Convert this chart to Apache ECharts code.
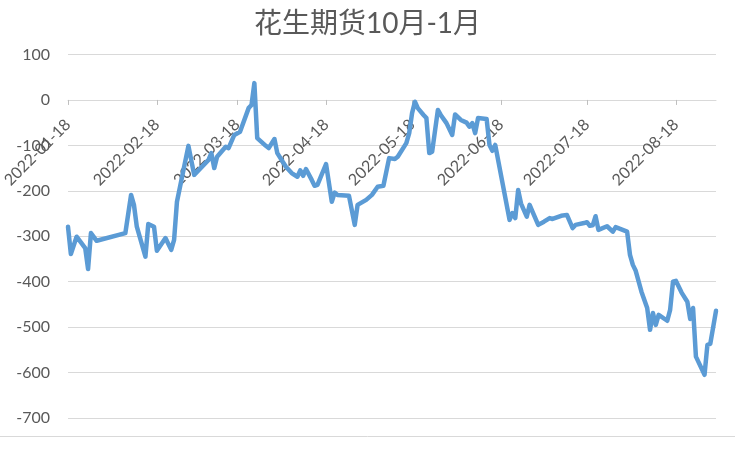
<!DOCTYPE html>
<html>
<head>
<meta charset="utf-8">
<script src="https://cdn.jsdelivr.net/npm/echarts@6/dist/echarts.min.js"></script>
<style>
html,body{margin:0;padding:0;background:#fff;}
#chart{width:735px;height:459px;}
</style>
</head>
<body>
<div id="chart"></div>
<script>
const titleText = '花生期货10月-1月';
const startDate = '2022-01-18';
const endDate = '2022-09-01';
const tickLabels = ['2022-01-18','2022-02-18','2022-03-18','2022-04-18','2022-05-18','2022-06-18','2022-07-18','2022-08-18'];
const yTicks = [-700, -600, -500, -400, -300, -200, -100, 0, 100];

const dates = [
'2022-01-18','2022-01-19','2022-01-21','2022-01-24','2022-01-25','2022-01-26','2022-01-28',
'2022-02-07','2022-02-09','2022-02-10','2022-02-11','2022-02-14','2022-02-15','2022-02-17','2022-02-18',
'2022-02-21','2022-02-23','2022-02-24','2022-02-25',
'2022-03-01','2022-03-03','2022-03-08','2022-03-09','2022-03-10','2022-03-11','2022-03-14','2022-03-15',
'2022-03-17','2022-03-19','2022-03-22','2022-03-23','2022-03-24','2022-03-25','2022-03-28','2022-03-29','2022-03-31',
'2022-04-01','2022-04-04','2022-04-06','2022-04-08','2022-04-09','2022-04-10','2022-04-11','2022-04-13','2022-04-14','2022-04-15',
'2022-04-18','2022-04-20','2022-04-21','2022-04-22','2022-04-26','2022-04-28','2022-04-29',
'2022-05-02','2022-05-04','2022-05-06','2022-05-08','2022-05-10','2022-05-12','2022-05-13','2022-05-16','2022-05-17',
'2022-05-18','2022-05-19','2022-05-20','2022-05-22','2022-05-23','2022-05-24','2022-05-25','2022-05-27','2022-05-28','2022-05-30',
'2022-06-01','2022-06-02','2022-06-04','2022-06-06','2022-06-07','2022-06-08','2022-06-09','2022-06-10','2022-06-13','2022-06-14',
'2022-06-15','2022-06-16','2022-06-21','2022-06-22','2022-06-23','2022-06-24','2022-06-25','2022-06-27','2022-06-28','2022-06-29',
'2022-07-01','2022-07-03','2022-07-05','2022-07-06','2022-07-09','2022-07-11','2022-07-13','2022-07-14','2022-07-17','2022-07-18',
'2022-07-19','2022-07-20','2022-07-21','2022-07-22','2022-07-25','2022-07-27','2022-07-28',
'2022-08-01','2022-08-02','2022-08-03','2022-08-04','2022-08-06','2022-08-08','2022-08-09','2022-08-10','2022-08-11','2022-08-12',
'2022-08-15','2022-08-16','2022-08-17','2022-08-18','2022-08-20','2022-08-22','2022-08-23','2022-08-24','2022-08-25','2022-08-28',
'2022-08-29','2022-08-30','2022-09-01'
];
const values = [
-279,-339,-301,-326,-372,-293,-310,
-293,-209,-231,-279,-345,-273,-279,-332,
-304,-330,-308,-224,
-101,-165,-132,-117,-150,-125,-103,-106,
-77,-70,-18,-11,37,-84,-101,-106,-86,
-117,-147,-161,-169,-155,-167,-152,-176,-189,-187,
-141,-224,-204,-209,-211,-275,-231,
-220,-209,-191,-189,-128,-130,-125,-95,-73,
-29,-4,-18,-33,-40,-117,-114,-22,-33,-51,
-77,-32,-44,-50,-59,-51,-73,-40,-42,-99,
-112,-99,-264,-249,-260,-198,-228,-257,-231,-246,
-275,-268,-260,-262,-255,-253,-282,-275,-271,-269,
-277,-276,-256,-286,-278,-290,-280,
-290,-341,-363,-376,-422,-458,-506,-469,-495,-473,
-486,-462,-400,-398,-424,-444,-482,-458,-565,-605,
-539,-537,-464
];

// Build full calendar-day category axis
function buildDays(a, b) {
  const out = [];
  const d = new Date(a + 'T00:00:00Z');
  const e = new Date(b + 'T00:00:00Z');
  while (d <= e) {
    out.push(d.toISOString().slice(0, 10));
    d.setUTCDate(d.getUTCDate() + 1);
  }
  return out;
}
const allDays = buildDays(startDate, endDate);
const valueMap = {};
dates.forEach((d, i) => { valueMap[d] = values[i]; });
const seriesData = allDays.map(d => (d in valueMap ? valueMap[d] : null));

const isTick = (idx, val) => tickLabels.indexOf(val) >= 0;
const fontFam = "Lato, 'Noto Sans CJK SC', sans-serif";

const gridTop = 54.5, gridBottom = 41, chartH = 459;
const yMin = yTicks[0], yMax = yTicks[yTicks.length - 1];
// place the category axis at value 0 (axis crosses at zero)
const plotH = chartH - gridTop - gridBottom;
const zeroOffset = -plotH * (0 - yMin) / (yMax - yMin);

const chart = echarts.init(document.getElementById('chart'), null, {renderer: 'canvas'});
chart.setOption({
  backgroundColor: '#ffffff',
  animation: false,
  title: {
    text: titleText,
    left: 'center',
    top: 5,
    textStyle: {fontFamily: fontFam, fontSize: 28, fontWeight: 'normal', color: '#595959'}
  },
  grid: {left: 68, right: 19, top: gridTop, bottom: gridBottom, containLabel: false, outerBoundsMode: 'none'},
  xAxis: {
    type: 'category',
    data: allDays,
    boundaryGap: false,
    position: 'bottom',
    offset: zeroOffset,
    axisLine: {onZero: false, lineStyle: {color: '#d9d9d9', width: 1}},
    axisTick: {show: true, interval: isTick, length: 5, lineStyle: {color: '#bfbfbf'}},
    axisLabel: {
      interval: isTick,
      rotate: 45,
      margin: 22,
      align: 'right',
      verticalAlign: 'middle',
      fontFamily: fontFam,
      fontSize: 16,
      color: '#595959'
    },
    splitLine: {show: false}
  },
  yAxis: {
    type: 'value',
    min: yMin,
    max: yMax,
    interval: 100,
    axisLine: {show: false},
    axisTick: {show: false},
    axisLabel: {margin: 18, fontFamily: fontFam, fontSize: 16, color: '#595959'},
    splitLine: {lineStyle: {color: '#d9d9d9', width: 1}}
  },
  series: [{
    type: 'line',
    data: seriesData,
    connectNulls: true,
    showSymbol: false,
    symbol: 'none',
    lineStyle: {color: '#5B9BD5', width: 4.5, join: 'round', cap: 'round'},
    itemStyle: {color: '#5B9BD5'},
    z: 3
  }],
  graphic: [{
    type: 'line',
    shape: {x1: 0, y1: 436.5, x2: 735, y2: 436.5},
    style: {stroke: '#d9d9d9', lineWidth: 1},
    silent: true
  }]
});
</script>
</body>
</html>
